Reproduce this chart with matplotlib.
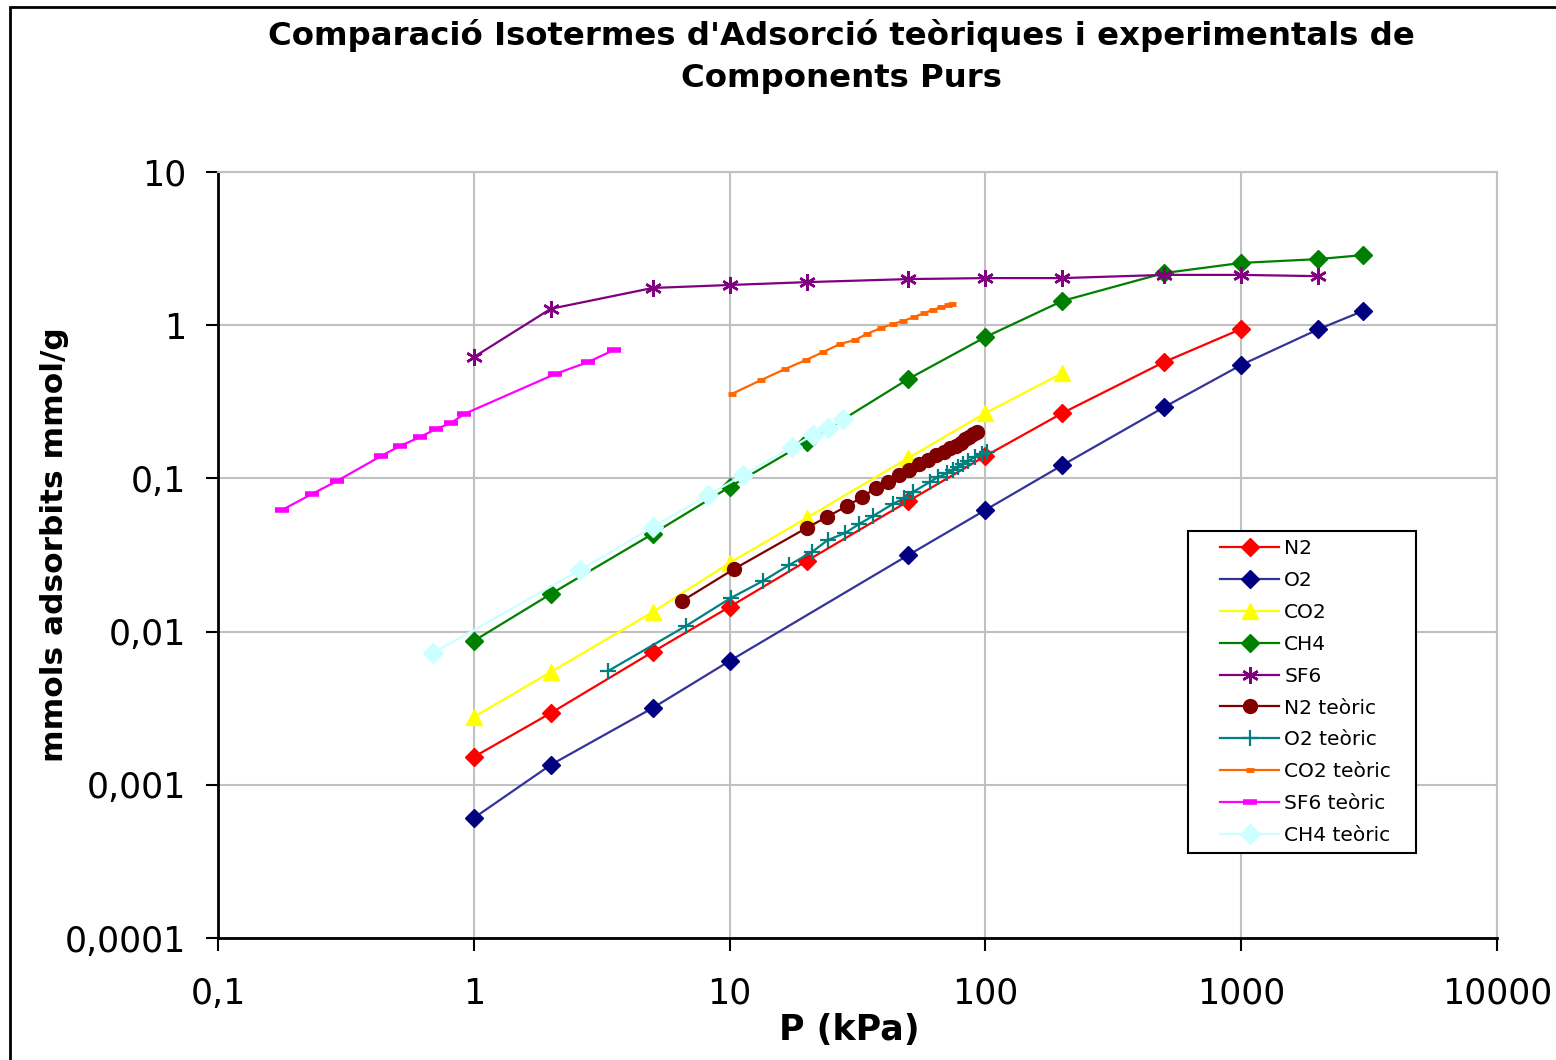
import numpy as np
import matplotlib
matplotlib.use('Agg')
import matplotlib.pyplot as plt
from matplotlib.patches import Rectangle
from matplotlib.lines import Line2D
from matplotlib.legend_handler import HandlerLine2D
from matplotlib.ticker import FixedLocator, FixedFormatter, NullLocator

plt.rcParams['font.family'] = ['DejaVu Sans']

# Dades experimentals (P en kPa, mmol/g)
p_n2 = [1, 2, 5, 10, 20, 50, 100, 200, 500, 1000]
q_n2 = [0.00152, 0.00294, 0.00736, 0.0145, 0.0289, 0.0711, 0.140, 0.267, 0.575, 0.945]

p_o2 = [1, 2, 5, 10, 50, 100, 200, 500, 1000, 2000, 3000]
q_o2 = [0.000607, 0.00135, 0.00317, 0.00643, 0.0316, 0.0622, 0.122, 0.292, 0.550, 0.94, 1.24]

p_co2 = [1, 2, 5, 10, 20, 50, 100, 200]
q_co2 = [0.00277, 0.00545, 0.0134, 0.0281, 0.0552, 0.136, 0.267, 0.487]

p_ch4 = [1, 2, 5, 10, 20, 50, 100, 200, 500, 1000, 2000, 3000]
q_ch4 = [0.00869, 0.0176, 0.0434, 0.0879, 0.173, 0.446, 0.837, 1.44, 2.19, 2.55, 2.70, 2.87]

p_sf6 = [1, 2, 5, 10, 20, 50, 100, 200, 500, 1000, 2000]
q_sf6 = [0.619, 1.28, 1.75, 1.83, 1.91, 2.00, 2.03, 2.03, 2.13, 2.13, 2.09]

# Dades teoriques
p_n2_t = [6.5, 10.4, 20, 24, 28.8, 33, 37.4, 41.6, 46, 50.3, 55, 59.7, 64, 68.9,
          72.7, 76.7, 80.3, 83.2, 86.3, 89.5, 92.7]
q_n2_t = [0.0158, 0.0256, 0.0475, 0.0560, 0.0661, 0.0757, 0.0866, 0.0947, 0.105, 0.1135,
          0.124, 0.132, 0.142, 0.149, 0.158, 0.163, 0.170, 0.181, 0.186, 0.195, 0.201]

p_o2_t = [3.35, 6.76, 10.1, 13.5, 17.1, 21.0, 24.2, 28.3, 32.1, 36.4, 43.5, 48.1, 52.1,
          60.7, 65.3, 70.8, 74.7, 78.2, 81.7, 85.5, 91.0, 97.0, 101]
q_o2_t = [0.00553, 0.0109, 0.01656, 0.0214, 0.0272, 0.0331, 0.0396, 0.0440, 0.0504, 0.0569,
          0.0681, 0.0745, 0.0815, 0.0948, 0.102, 0.108, 0.1135, 0.1187, 0.124, 0.130,
          0.138, 0.144, 0.149]

p_co2_t = [10.2, 13.3, 16.5, 19.9, 23.2, 27.0, 30.9, 34.4, 39.1, 43.5, 47.6, 52.6, 57.5,
           62.4, 67.0, 71.4, 74.0]
q_co2_t = [0.356, 0.439, 0.518, 0.593, 0.668, 0.754, 0.800, 0.877, 0.959, 1.02, 1.065,
           1.13, 1.20, 1.26, 1.31, 1.35, 1.38]

p_sf6_t = [0.178, 0.233, 0.292, 0.434, 0.515, 0.616, 0.711, 0.815, 0.916, 2.08, 2.80, 3.53]
q_sf6_t = [0.0622, 0.0791, 0.0962, 0.140, 0.163, 0.186, 0.210, 0.230, 0.263, 0.480, 0.575, 0.689]

p_ch4_t = [0.693, 2.60, 5.02, 8.24, 11.3, 17.5, 21.2, 24.3, 27.7]
q_ch4_t = [0.00725, 0.0252, 0.0482, 0.078, 0.105, 0.160, 0.192, 0.213, 0.244]

x_ticks = [0.1, 1, 10, 100, 1000, 10000]
x_labels = ['0,1', '1', '10', '100', '1000', '10000']
y_ticks = [0.0001, 0.001, 0.01, 0.1, 1, 10]
y_labels = ['0,0001', '0,001', '0,01', '0,1', '1', '10']

fig = plt.figure(figsize=(15.56, 10.6), dpi=100)
ax = fig.add_axes([218/1556, 1 - 938/1060, (1497 - 218)/1556, (938 - 172)/1060])

lw = 1.6
ax.plot(p_n2, q_n2, color='#FF0000', lw=lw, marker='D', ms=9, label='N2')
ax.plot(p_o2, q_o2, color='#333399', lw=lw, marker='D', ms=9, mfc='#000080', mec='#000080', label='O2')
ax.plot(p_co2, q_co2, color='#FFFF00', lw=lw, marker='^', ms=11, label='CO2')
ax.plot(p_ch4, q_ch4, color='#008000', lw=lw, marker='D', ms=9, label='CH4')
ax.plot(p_sf6, q_sf6, color='#800080', lw=lw, marker=(6, 2, 0), ms=12, mew=1.8, label='SF6')
ax.plot(p_n2_t, q_n2_t, color='#800000', lw=lw, marker='o', ms=10, label='N2 teòric')
ax.plot(p_o2_t, q_o2_t, color='#008080', lw=lw, marker='+', ms=12, mew=1.6, label='O2 teòric')
ax.plot(p_co2_t, q_co2_t, color='#FF6600', lw=lw, marker='_', ms=6, mew=3.5, label='CO2 teòric')
ax.plot(p_sf6_t, q_sf6_t, color='#FF00FF', lw=lw, marker='_', ms=10, mew=4, label='SF6 teòric')
ax.plot(p_ch4_t, q_ch4_t, color='#CCFFFF', lw=lw, marker='D', ms=10, label='CH4 teòric')

ax.set_xscale('log')
ax.set_yscale('log')
ax.set_xlim(0.1, 10000)
ax.set_ylim(0.0001, 10)
ax.xaxis.set_major_locator(FixedLocator(x_ticks))
ax.xaxis.set_major_formatter(FixedFormatter(x_labels))
ax.yaxis.set_major_locator(FixedLocator(y_ticks))
ax.yaxis.set_major_formatter(FixedFormatter(y_labels))
ax.xaxis.set_minor_locator(NullLocator())
ax.yaxis.set_minor_locator(NullLocator())
ax.tick_params(axis='both', which='major', direction='out', length=9, width=1.5,
               labelsize=25, color='black')
ax.tick_params(axis='x', pad=19)
ax.tick_params(axis='y', pad=14)

ax.grid(True, color='#C0C0C0', lw=1.5)
ax.set_axisbelow(True)
for s in ['top', 'right']:
    ax.spines[s].set_color('#C0C0C0')
    ax.spines[s].set_linewidth(1.5)
for s in ['left', 'bottom']:
    ax.spines[s].set_color('black')
    ax.spines[s].set_linewidth(2)

ax.set_xlabel('P (kPa)', fontsize=25, fontweight='bold')
ax.xaxis.set_label_coords(0.4934, -0.098)
ax.set_ylabel('mmols adsorbits mmol/g', fontsize=22.5, fontweight='bold')
ax.yaxis.set_label_coords(-0.1165, 0.513)

# titol en dues linies
fig.text(841/1556, 1 - 35/1060, "Comparació Isotermes d'Adsorció teòriques i experimentals de",
         ha='center', va='center', fontsize=23.3, fontweight='bold')
fig.text(841/1556, 1 - 79/1060, 'Components Purs',
         ha='center', va='center', fontsize=23.3, fontweight='bold')

leg = ax.legend(loc='upper left', bbox_to_anchor=(0.7584, 0.0, 0.1783, 0.5313),
                mode='expand', borderaxespad=0,
                fontsize=14.5, frameon=True, fancybox=False, edgecolor='black',
                handlelength=4.13, handletextpad=0.25, labelspacing=0.64,
                borderpad=0.4, framealpha=1,
                handler_map={Line2D: HandlerLine2D(xpad=1.19)})
leg.get_frame().set_linewidth(1.5)

# marc exterior del grafic
fig.add_artist(Rectangle((10/1556, -0.05), 1.2, 1.05 - 7/1060, transform=fig.transFigure,
                         fill=False, lw=2, edgecolor='black', clip_on=False))

fig.savefig('out.png', dpi=100)
